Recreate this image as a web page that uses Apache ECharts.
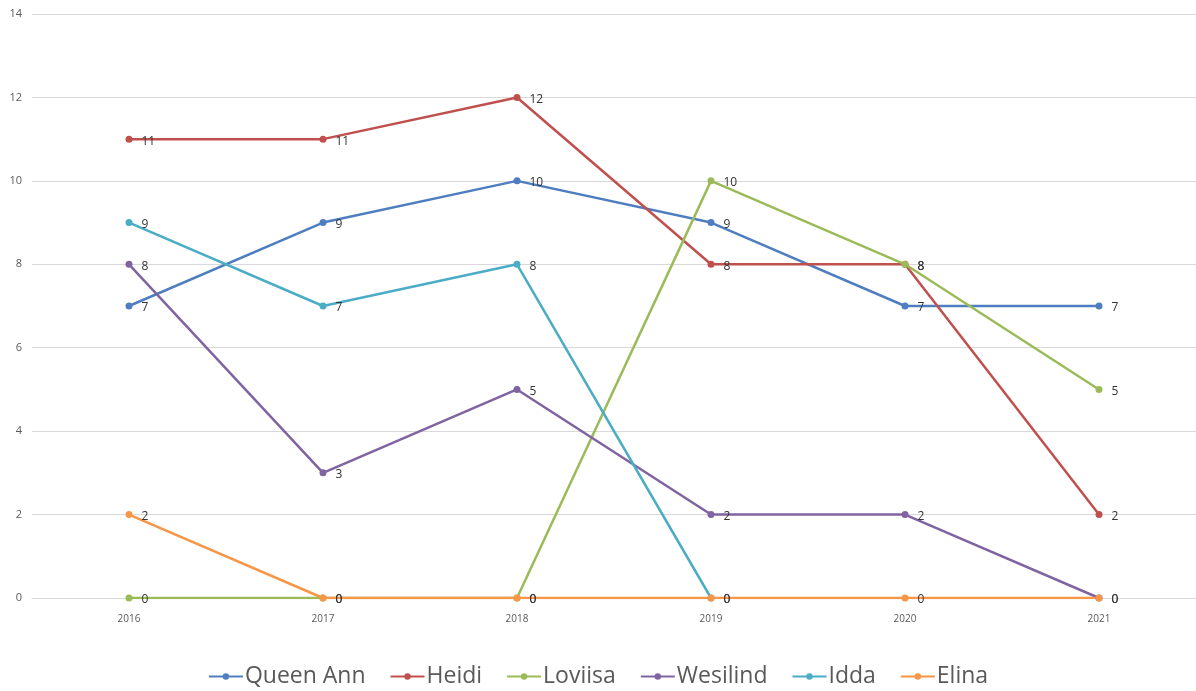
<!DOCTYPE html>
<html>
<head>
<meta charset="utf-8">
<script src="https://cdn.jsdelivr.net/npm/echarts@6/dist/echarts.min.js"></script>
<style>
  html, body { margin: 0; padding: 0; background: #ffffff; }
  #chart { width: 1196px; height: 691px; }
</style>
</head>
<body>
<div id="chart"></div>
<script>
// Yearly counts per person
const years = ['2016', '2017', '2018', '2019', '2020', '2021'];
const queenAnn = [7, 9, 10, 9, 7, 7];
const heidi    = [11, 11, 12, 8, 8, 2];
const loviisa  = [0, 0, 0, 10, 8, 5];
const wesilind = [8, 3, 5, 2, 2, 0];
const idda     = [9, 7, 8, 0, null, null];
const elina    = [2, 0, 0, 0, 0, 0];
const yTicks   = [0, 2, 4, 6, 8, 10, 12, 14];

const seriesDefs = [
  { name: 'Queen Ann', data: queenAnn, color: '#4F7EC0' },
  { name: 'Heidi',     data: heidi,    color: '#C0504D' },
  { name: 'Loviisa',   data: loviisa,  color: '#9BBB59' },
  { name: 'Wesilind',  data: wesilind, color: '#8064A2' },
  { name: 'Idda',      data: idda,     color: '#4BACC6' },
  { name: 'Elina',     data: elina,    color: '#F79646' }
];

const fontFam = '"Liberation Sans Narrow", "Open Sans", "Liberation Sans", sans-serif';

const chart = echarts.init(document.getElementById('chart'), null, { renderer: 'canvas' });
chart.setOption({
  animation: false,
  backgroundColor: '#ffffff',
  grid: { left: 32, right: 0, top: 14, bottom: 93, containLabel: false },
  legend: {
    bottom: -2,
    left: 'center',
    itemWidth: 34,
    itemHeight: 8,
    itemGap: 24,
    textStyle: { fontSize: 23, color: '#595959', fontFamily: fontFam, padding: [0, 0, 0, -3] },
    data: seriesDefs.map(s => s.name)
  },
  xAxis: {
    type: 'category',
    data: years,
    boundaryGap: true,
    axisLine: { show: true, lineStyle: { color: '#d9d9d9', width: 1 } },
    axisTick: { show: false },
    axisLabel: { fontSize: 10, color: '#595959', margin: 16, fontFamily: fontFam }
  },
  yAxis: {
    type: 'value',
    min: yTicks[0],
    max: yTicks[yTicks.length - 1],
    interval: 2,
    axisLine: { show: false },
    axisTick: { show: false },
    splitLine: { lineStyle: { color: '#d9d9d9', width: 1 } },
    axisLabel: { fontSize: 11, color: '#595959', margin: 10, fontFamily: fontFam }
  },
  series: seriesDefs.map(s => ({
    name: s.name,
    type: 'line',
    data: s.data,
    color: s.color,
    symbol: 'circle',
    symbolSize: 7,
    showAllSymbol: true,
    connectNulls: false,
    clip: true,
    lineStyle: { width: 2.5, color: s.color },
    itemStyle: { color: s.color },
    label: {
      show: true,
      position: 'right',
      distance: 9,
      offset: [0, 2],
      fontSize: 12,
      color: '#333333',
      fontFamily: fontFam
    },
    emphasis: { disabled: true }
  }))
});
</script>
</body>
</html>
